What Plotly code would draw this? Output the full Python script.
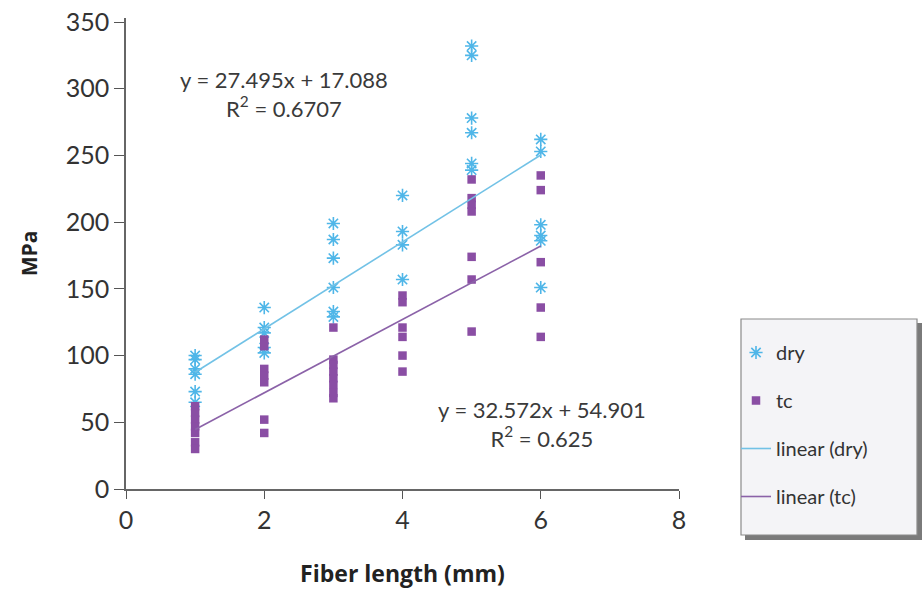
import plotly.graph_objects as go

# ---- data ----
dry_x = [1]*6 + [2]*5 + [3]*6 + [4]*4 + [5]*6 + [6]*6
dry_y = [100, 97, 90, 86, 73, 65,
         136, 121, 117, 106, 102,
         199, 187, 173, 151, 133, 129,
         220, 193, 183, 157,
         332, 325, 278, 267, 244, 239,
         262, 253, 198, 190, 186, 151]

tc_x = [1]*7 + [2]*7 + [3]*8 + [4]*6 + [5]*7 + [6]*5
tc_y = [62, 57, 52, 47, 42, 35, 30,
        112, 107, 90, 85, 80, 52, 42,
        121, 97, 93, 88, 83, 78, 72, 68,
        145, 140, 121, 114, 100, 88,
        232, 218, 213, 208, 174, 157, 118,
        235, 224, 170, 136, 114]

# trend line coefficients (slope, intercept)
dry_fit = (32.572, 54.901)
tc_fit = (27.495, 17.088)
fit_x = [1, 6]

x_ticks = [0, 2, 4, 6, 8]
y_ticks = [0, 50, 100, 150, 200, 250, 300, 350]

eq_labels = ["y = 27.495x + 17.088<br>R<sup>2</sup> = 0.6707",
             "y = 32.572x + 54.901<br>R<sup>2</sup> = 0.625"]

BLUE = "#4fb6e8"
PURPLE = "#8a4ea4"
LBLUE = "#72c2e6"
LPURPLE = "#8b62a8"
FONT = "Lato, 'Open Sans', sans-serif"
TFONT = "'Open Sans', Lato, sans-serif"

fig = go.Figure()
fig.add_trace(go.Scatter(x=dry_x, y=dry_y, mode="markers", name="dry",
                         legendgroup="a",
                         marker=dict(symbol="asterisk-open", size=11,
                                     color=BLUE, line=dict(color=BLUE, width=1.6))))
fig.add_trace(go.Scatter(x=tc_x, y=tc_y, mode="markers", name="tc",
                         legendgroup="b",
                         marker=dict(symbol="square", size=8.5, color=PURPLE)))
fig.add_trace(go.Scatter(x=fit_x, y=[dry_fit[0]*v + dry_fit[1] for v in fit_x],
                         mode="lines", name="linear (dry)", legendgroup="c",
                         line=dict(color=LBLUE, width=1.6)))
fig.add_trace(go.Scatter(x=fit_x, y=[tc_fit[0]*v + tc_fit[1] for v in fit_x],
                         mode="lines", name="linear (tc)", legendgroup="d",
                         line=dict(color=LPURPLE, width=1.6)))

L, R, T, B = 126, 243, 18, 101
W, H = 922, 590
pw, ph = W - L - R, H - T - B

def px(xp):
    return (xp - L) / pw

def py(yp):
    return (H - B - yp) / ph

# legend box with shadow
fig.add_shape(type="rect", xref="paper", yref="paper",
              x0=px(745), x1=px(922), y0=py(540), y1=py(323),
              fillcolor="#7a7a7a", line=dict(width=0), layer="below")
fig.add_shape(type="rect", xref="paper", yref="paper",
              x0=px(741), x1=px(917), y0=py(535), y1=py(319),
              fillcolor="#f4f4f7", line=dict(color="#8a8a8a", width=1.2), layer="below")

fig.add_annotation(x=px(284), y=py(94), xref="paper", yref="paper",
                   xanchor="center", yanchor="middle",
                   text=eq_labels[0], showarrow=False, align="center",
                   font=dict(family=FONT, size=22, color="#3a3a3a"))
fig.add_annotation(x=px(542), y=py(424), xref="paper", yref="paper",
                   xanchor="center", yanchor="middle",
                   text=eq_labels[1], showarrow=False, align="center",
                   font=dict(family=FONT, size=22, color="#3a3a3a"))

fig.update_layout(
    width=W, height=H,
    margin=dict(l=L, r=R, t=T, b=B, autoexpand=False),
    paper_bgcolor="white", plot_bgcolor="white",
    font=dict(family=FONT, color="#333333"),
    showlegend=True,
    legend=dict(x=px(736), y=py(333), xanchor="left", yanchor="top",
                bgcolor="rgba(0,0,0,0)", borderwidth=0,
                font=dict(family=FONT, size=20, color="#333333"),
                tracegroupgap=19),
    xaxis=dict(range=[0, 8], tickvals=x_ticks, ticks="outside", ticklen=8,
               tickcolor="#555", showline=True, linecolor="#666", linewidth=1.5,
               showgrid=False, zeroline=False, automargin=False,
               tickfont=dict(family=FONT, size=25, color="#333"),
               title=dict(text="<b>Fiber length (mm)</b>", standoff=33,
                          font=dict(family=TFONT, size=23, color="#222"))),
    yaxis=dict(range=[0, 353], tickvals=y_ticks, ticks="outside", ticklen=10,
               tickcolor="#555", showline=True, linecolor="#666", linewidth=1.5,
               showgrid=False, zeroline=False, automargin=False,
               tickfont=dict(family=FONT, size=25, color="#333"),
               title=dict(text="<b>MPa</b>", standoff=22,
                          font=dict(family=TFONT, size=21, color="#222"))),
)

fig.write_html("out.html")
